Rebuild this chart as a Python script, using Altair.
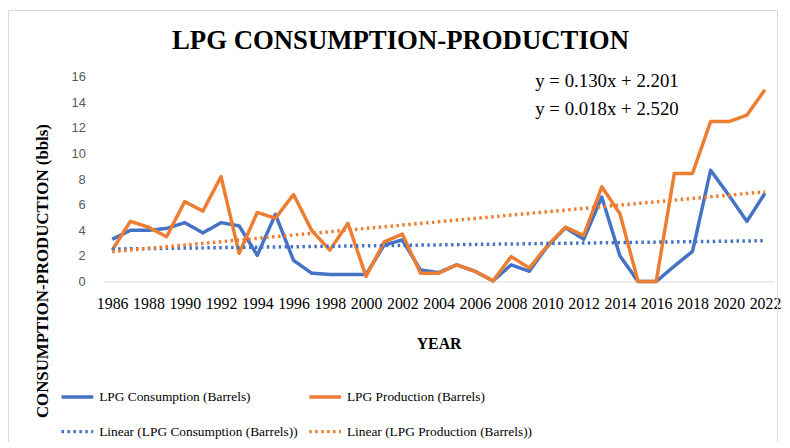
import altair as alt
import pandas as pd

years = list(range(1986, 2023))
consumption = [3.3, 4.0, 4.0, 4.15, 4.6, 3.8, 4.6, 4.35, 2.05, 5.25,
               1.65, 0.65, 0.55, 0.55, 0.55, 2.85, 3.25, 0.9, 0.7, 1.3,
               0.8, 0.05, 1.3, 0.8, 2.75, 4.2, 3.3, 6.6, 2.0, 0.0,
               0.0, 1.2, 2.35, 8.7, 6.75, 4.7, 6.9]
production = [2.45, 4.7, 4.25, 3.5, 6.25, 5.5, 8.2, 2.2, 5.4, 4.95,
              6.8, 4.0, 2.45, 4.55, 0.4, 3.1, 3.7, 0.65, 0.65, 1.3,
              0.8, 0.05, 1.95, 1.05, 2.8, 4.25, 3.6, 7.4, 5.3, 0.0,
              0.0, 8.45, 8.45, 12.5, 12.5, 13.0, 15.0]
# Excel linear trendlines (x = 1..37), coefficients as printed on the chart
trend_slope = [0.018, 0.130]
trend_intercept = [2.520, 2.201]
series_names = ["LPG Consumption (Barrels)", "LPG Production (Barrels)",
                "Linear (LPG Consumption (Barrels))", "Linear (LPG Production (Barrels))"]
series_colors = ["#4472C4", "#ED7D31", "#4472C4", "#ED7D31"]
equations = ["y = 0.130x + 2.201", "y = 0.018x + 2.520"]
chart_title = ["LPG CONSUMPTION-PRODUCTION"]
x_ticks = list(range(1986, 2023, 2))
y_ticks = list(range(0, 17, 2))

rows = []
for i, yr in enumerate(years):
    rows.append({"year": yr, "value": consumption[i], "series": series_names[0], "o": 0})
    rows.append({"year": yr, "value": production[i], "series": series_names[1], "o": 1})
    rows.append({"year": yr, "value": trend_intercept[0] + trend_slope[0] * (i + 1),
                 "series": series_names[2], "o": 2})
    rows.append({"year": yr, "value": trend_intercept[1] + trend_slope[1] * (i + 1),
                 "series": series_names[3], "o": 3})
df = pd.DataFrame(rows)

SERIF = "Liberation Serif"

legend = alt.Legend(orient="none", legendX=-44, legendY=305, columns=2,
                    direction="horizontal", title=None, labelFont=SERIF)

lines = alt.Chart(df).mark_line(strokeJoin="round").encode(
    x=alt.X("year:Q", scale=alt.Scale(domain=[1985.5, 2022.5], nice=False, zero=False),
            axis=alt.Axis(values=x_ticks, format="d", domain=True, domainColor="#D9D9D9",
                          domainWidth=1, ticks=False, grid=False,
                          labelFont=SERIF, labelFontSize=16, labelColor="#000000",
                          labelPadding=14, labelOverlap=False, labelFlush=False,
                          title="YEAR", titleFont=SERIF, titleFontSize=16,
                          titleFontWeight="bold", titleColor="#000000",
                          titleY=63, titleBaseline="middle")),
    y=alt.Y("value:Q", scale=alt.Scale(domain=[0, 16], nice=False),
            axis=alt.Axis(values=y_ticks, domain=False, ticks=False, grid=False,
                          labelFont="Liberation Sans", labelFontSize=13,
                          labelColor="#595959", labelPadding=18,
                          title="CONSUMPTION-PRODUCTION  (bbls)", titleFont=SERIF,
                          titleFontSize=17, titleFontWeight="bold", titleColor="#000000",
                          titleX=-61, titleY=195.5, titleBaseline="middle", titleAngle=270)),
    color=alt.Color("series:N", scale=alt.Scale(domain=series_names, range=series_colors),
                    legend=legend),
    strokeDash=alt.StrokeDash("series:N", scale=alt.Scale(
        domain=series_names, range=[[1, 0], [1, 0], [2.5, 3.5], [2.5, 3.5]]), legend=legend),
    strokeWidth=alt.StrokeWidth("series:N", scale=alt.Scale(
        domain=series_names, range=[3.5, 3.5, 2.5, 2.5]), legend=None),
    order=alt.Order("o:Q"),
)

title_df = pd.DataFrame({"t": chart_title})
title = alt.Chart(title_df).mark_text(
    font=SERIF, fontSize=27, fontWeight="bold", color="#000000",
    align="center", baseline="middle",
).encode(text="t:N", x=alt.value(300), y=alt.value(-36.5))

eq1 = alt.Chart(pd.DataFrame({"t": [equations[0]]})).mark_text(
    font=SERIF, fontSize=19, color="#000000", align="left", baseline="middle",
).encode(text="t:N", x=alt.value(436), y=alt.value(4.5))
eq2 = alt.Chart(pd.DataFrame({"t": [equations[1]]})).mark_text(
    font=SERIF, fontSize=19, color="#000000", align="left", baseline="middle",
).encode(text="t:N", x=alt.value(436), y=alt.value(32.5))

frame = alt.Chart(pd.DataFrame({"a": [0]})).mark_rect(
    fillOpacity=0, stroke="#D9D9D9", strokeWidth=1,
).encode(x=alt.value(-95.5), x2=alt.value(680.5), y=alt.value(-67), y2=alt.value(400))

chart = alt.layer(frame, lines, title, eq1, eq2).properties(
    width=677, height=206.5,
    autosize=alt.AutoSizeParams(type="none"),
    padding={"left": 96, "top": 67.5, "right": 8, "bottom": 160},
).configure_view(stroke=None).configure_legend(
    symbolType="stroke", symbolSize=1024, symbolStrokeWidth=2.5,
    labelFont=SERIF, labelFontSize=13.5, labelColor="#000000",
    rowPadding=10, columnPadding=4, labelOffset=4, labelLimit=0,
)

chart.save("out.html", embed_options={"renderer": "svg", "actions": False})
